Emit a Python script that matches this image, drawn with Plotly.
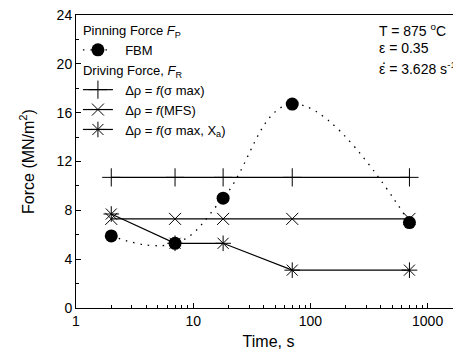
import plotly.graph_objects as go

time_s = [2, 7, 18, 70, 700]
fbm = [5.9, 5.3, 9.0, 16.7, 7.0]
f_sigma_max = [10.7, 10.7, 10.7, 10.7, 10.7]
f_mfs = [7.3, 7.3, 7.3, 7.3, 7.3]
f_sigma_xa = [7.7, 5.3, 5.3, 3.1, 3.1]
y_ticks = [0, 4, 8, 12, 16, 20, 24]
x_ticks = [1, 10, 100, 1000]

FONT = "Liberation Sans, Arial, sans-serif"
SP = "\u00a0\u00a0"

fig = go.Figure()

fig.add_trace(go.Scatter(
    x=time_s, y=fbm, mode="lines+markers", name=SP + "FBM",
    line=dict(color="black", width=1.3, dash="1.5px,6px", shape="spline", smoothing=1.2),
    marker=dict(symbol="circle", size=13, color="black"),
    legendgroup="p", legendgrouptitle=dict(text="Pinning Force <i>F</i><sub>P</sub>", font=dict(size=13, color="black"))))

common = dict(mode="lines+markers", line=dict(color="black", width=1.2), legendgroup="r",
              legendgrouptitle=dict(text="Driving Force, <i>F</i><sub>R</sub>", font=dict(size=13, color="black")))
fig.add_trace(go.Scatter(x=time_s, y=f_sigma_max, name=SP + "Δρ = <i>f</i>(σ max)",
                         marker=dict(symbol="cross-thin", size=13, color="black", line=dict(color="black", width=1)), **common))
fig.add_trace(go.Scatter(x=time_s, y=f_mfs, name=SP + "Δρ = <i>f</i>(MFS)",
                         marker=dict(symbol="x-thin", size=12, color="black", line=dict(color="black", width=1)), **common))
fig.add_trace(go.Scatter(x=time_s, y=f_sigma_xa, name=SP + "Δρ = <i>f</i>(σ max, X<sub>a</sub>)",
                         marker=dict(symbol="asterisk", size=13, color="black", line=dict(color="black", width=1)), **common))

ann_font = dict(size=14, color="black", family=FONT)
right_lines = ["T = 875 <sup>o</sup>C", "ε = 0.35", "ε = 3.628 s<sup>-1</sup>"]
right_y = [0.95, 0.887, 0.818]
for txt, yy in zip(right_lines, right_y):
    fig.add_annotation(xref="paper", yref="paper", x=0.782, y=yy, xanchor="left", yanchor="middle",
                       align="left", showarrow=False, text=txt, font=ann_font)
# rate dot over the epsilon of the strain-rate line
fig.add_annotation(xref="paper", yref="paper", x=0.782, y=0.818, xanchor="left", yanchor="middle",
                   showarrow=False, text=".", font=ann_font, xshift=3, yshift=9)

fig.update_layout(
    width=453, height=346,
    margin=dict(l=68, r=0, t=7, b=46),
    paper_bgcolor="white", plot_bgcolor="white",
    font=dict(family=FONT, size=13, color="black"),
    showlegend=True,
    legend=dict(x=0.005, y=1.0, xanchor="left", yanchor="top", bgcolor="rgba(0,0,0,0)",
                tracegroupgap=0, font=dict(size=13), itemwidth=30),
    xaxis=dict(type="log", range=[0, 3.285], tickvals=x_ticks, ticktext=[str(v) for v in x_ticks],
               ticks="inside", ticklen=5, tickcolor="black", showgrid=False, zeroline=False,
               showline=True, linecolor="black", linewidth=1, mirror=True, ticklabeloverflow="allow",
               minor=dict(ticks="inside", ticklen=3, tickcolor="black", dtick="D1"),
               tickfont=dict(size=14), title=dict(text="Time, s", font=dict(size=16), standoff=8)),
    yaxis=dict(range=[0, 24], tickvals=y_ticks, ticks="inside", ticklen=5, tickcolor="black",
               showgrid=False, zeroline=False, showline=True, linecolor="black", linewidth=1, mirror=True,
               ticklabeloverflow="allow",
               minor=dict(ticks="inside", ticklen=3, tickcolor="black", dtick=2),
               tickfont=dict(size=14), title=dict(text="Force (MN/m<sup>2</sup>)", font=dict(size=16), standoff=18)),
)

fig.write_html("out.html")
